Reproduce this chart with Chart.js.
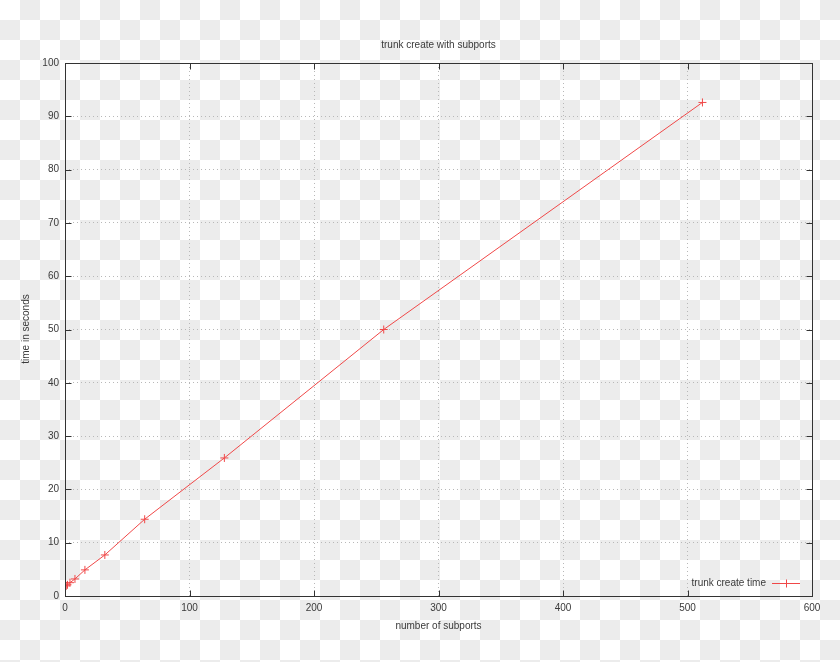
<!DOCTYPE html>
<html>
<head>
<meta charset="utf-8">
<script src="https://cdn.jsdelivr.net/npm/chart.js@4.4.1/dist/chart.umd.min.js"></script>
<style>
  html, body { margin: 0; padding: 0; }
  body {
    width: 840px; height: 662px; overflow: hidden;
    background: repeating-conic-gradient(#ececec 0 25%, #ffffff 0 50%) 0 0 / 40px 40px;
  }
  #wrap { position: absolute; left: 0; top: 0; width: 840px; height: 662px; }
</style>
</head>
<body>
<div id="wrap"><canvas id="c" width="840" height="662"></canvas></div>
<script>
// ---- data ----
const subports = [1, 2, 4, 8, 16, 32, 64, 128, 256, 512];
const seconds  = [1.9, 2.1, 2.5, 3.2, 4.9, 7.7, 14.4, 25.9, 50.0, 92.6];
const xTicks = [0, 100, 200, 300, 400, 500, 600];
const yTicks = [0, 10, 20, 30, 40, 50, 60, 70, 80, 90, 100];
const chartTitle = 'trunk create with subports';
const xTitle = 'number of subports';
const yTitle = 'time in seconds';
const seriesLabel = 'trunk create time';

const FONT = '"Liberation Sans", Arial, sans-serif';
const TEXT = '#3a3a3a';
const RED = '#f04848';

const gnuplotDecor = {
  id: 'gnuplotDecor',
  afterDraw(chart) {
    const ctx = chart.ctx;
    const a = chart.chartArea;
    const xs = chart.scales.x, ys = chart.scales.y;
    ctx.save();
    // border box
    ctx.strokeStyle = '#333333';
    ctx.lineWidth = 1;
    const L = Math.round(a.left) + 0.5, R = Math.round(a.right) + 0.5;
    const T = Math.round(a.top) + 0.5, B = Math.round(a.bottom) + 0.5;
    ctx.strokeRect(L, T, R - L, B - T);
    // inward ticks (mirrored)
    ctx.beginPath();
    xTicks.forEach(v => {
      const px = Math.round(xs.getPixelForValue(v)) + 0.5;
      ctx.moveTo(px, B); ctx.lineTo(px, B - 6);
      ctx.moveTo(px, T); ctx.lineTo(px, T + 6);
    });
    yTicks.forEach(v => {
      const py = Math.round(ys.getPixelForValue(v)) + 0.5;
      ctx.moveTo(L, py); ctx.lineTo(L + 6, py);
      ctx.moveTo(R, py); ctx.lineTo(R - 6, py);
    });
    ctx.stroke();

    // texts
    ctx.fillStyle = TEXT;
    ctx.font = '10px ' + FONT;
    ctx.textBaseline = 'middle';
    ctx.textAlign = 'center';
    const cx = (a.left + a.right) / 2;
    ctx.fillText(chartTitle, cx, 45);
    ctx.fillText(xTitle, cx, 626);
    ctx.save();
    ctx.translate(26, 329);
    ctx.rotate(-Math.PI / 2);
    ctx.fillText(yTitle, 0, 0);
    ctx.restore();

    // legend (bottom right, inside plot)
    const ds = chart.data.datasets[0];
    ctx.textAlign = 'right';
    ctx.fillText(ds.label, 766, 583);
    ctx.strokeStyle = ds.borderColor;
    ctx.beginPath();
    ctx.moveTo(772, 583.5); ctx.lineTo(800, 583.5);
    ctx.moveTo(786.5, 579.5); ctx.lineTo(786.5, 587.5);
    ctx.stroke();
    ctx.restore();
  }
};

new Chart(document.getElementById('c'), {
  type: 'scatter',
  data: {
    datasets: [{
      label: seriesLabel,
      data: subports.map((x, i) => ({ x: x, y: seconds[i] })),
      showLine: true,
      borderColor: RED,
      backgroundColor: RED,
      borderWidth: 1,
      pointStyle: 'cross',
      pointRadius: 4,
      pointBorderWidth: 1,
      pointHoverRadius: 4,
      tension: 0
    }]
  },
  options: {
    responsive: false,
    animation: false,
    devicePixelRatio: 1,
    layout: { padding: { left: 0, top: 63, right: 28, bottom: 0 } },
    plugins: {
      legend: { display: false },
      title: { display: false },
      tooltip: { enabled: false }
    },
    scales: {
      x: {
        type: 'linear',
        min: 0, max: 600,
        afterBuildTicks: s => { s.ticks = xTicks.map(v => ({ value: v })); },
        afterFit: s => { s.height = 66; },
        grid: { color: '#b8b8b8', lineWidth: 1, drawTicks: false },
        border: { display: false, dash: [1, 3] },
        ticks: {
          color: TEXT, font: { family: FONT, size: 10 }, padding: 6,
          maxRotation: 0, autoSkip: false
        }
      },
      y: {
        type: 'linear',
        min: 0, max: 100,
        afterBuildTicks: s => { s.ticks = yTicks.map(v => ({ value: v })); },
        afterFit: s => { s.width = 65; },
        grid: { color: '#b8b8b8', lineWidth: 1, drawTicks: false },
        border: { display: false, dash: [1, 3] },
        ticks: {
          color: TEXT, font: { family: FONT, size: 10 }, padding: 6,
          autoSkip: false
        }
      }
    }
  },
  plugins: [gnuplotDecor]
});
</script>
</body>
</html>
